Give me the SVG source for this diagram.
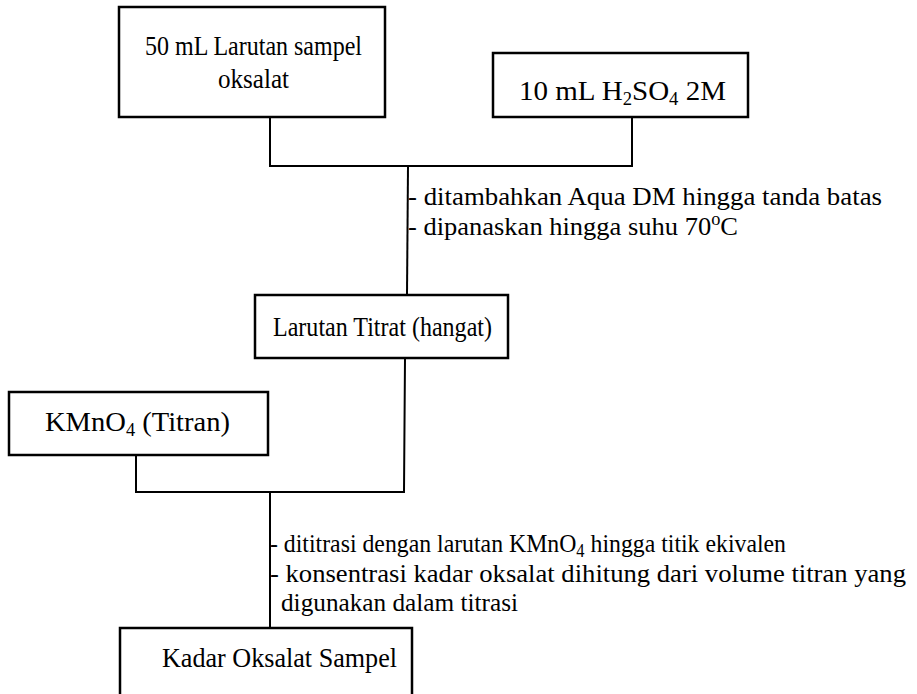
<svg xmlns="http://www.w3.org/2000/svg" width="917" height="694" viewBox="0 0 917 694">
<style>
.box{fill:#fff;stroke:#000;stroke-width:2.5}
.ln{fill:none;stroke:#000;stroke-width:2}
text{font-family:"Liberation Serif","Times New Roman",serif;fill:#000}
.bt{font-size:28px}
.an{font-size:26px}
.sub{font-size:18px}
</style>
<rect width="917" height="694" fill="#fff"/>
<g id="connectors">
<polyline class="ln" points="270,117 270,166 632,166 632,117"/>
<line class="ln" x1="408" y1="166" x2="407" y2="295"/>
<polyline class="ln" points="405,358 404,492 136,492 136,455"/>
<line class="ln" x1="270" y1="492" x2="270" y2="628"/>
</g>
<g id="n1">
<rect class="box" x="119" y="7" width="266" height="110"/>
<text class="bt" x="145" y="55" textLength="217" lengthAdjust="spacingAndGlyphs">50 mL Larutan sampel</text>
<text class="bt" x="218" y="88" textLength="71" lengthAdjust="spacingAndGlyphs">oksalat</text>
</g>
<g id="n2">
<rect class="box" x="493" y="53" width="255" height="64"/>
<text class="bt" x="519" y="100" textLength="207" lengthAdjust="spacingAndGlyphs">10 mL H<tspan class="sub" dy="5">2</tspan><tspan dy="-5">SO</tspan><tspan class="sub" dy="5">4</tspan><tspan dy="-5"> 2M</tspan></text>
</g>
<g id="label1">
<text class="an" x="408" y="205" textLength="474" lengthAdjust="spacingAndGlyphs">- ditambahkan Aqua DM hingga tanda batas</text>
<text class="an" x="408" y="235" textLength="330" lengthAdjust="spacingAndGlyphs">- dipanaskan hingga suhu 70<tspan class="sub" dy="-10">o</tspan><tspan dy="10">C</tspan></text>
</g>
<g id="n3">
<rect class="box" x="255" y="295" width="253" height="63"/>
<text class="bt" x="273" y="336" textLength="219" lengthAdjust="spacingAndGlyphs">Larutan Titrat (hangat)</text>
</g>
<g id="n4">
<rect class="box" x="9" y="392" width="259" height="63"/>
<text class="bt" x="45" y="431" textLength="185" lengthAdjust="spacingAndGlyphs">KMnO<tspan class="sub" dy="5">4</tspan><tspan dy="-5"> (Titran)</tspan></text>
</g>
<g id="label2">
<text class="an" x="270" y="552" textLength="516" lengthAdjust="spacingAndGlyphs">- dititrasi dengan larutan KMnO<tspan class="sub" dy="5">4</tspan><tspan dy="-5"> hingga titik ekivalen</tspan></text>
<text class="an" x="270" y="582" textLength="636" lengthAdjust="spacingAndGlyphs">- konsentrasi kadar oksalat dihitung dari volume titran yang</text>
<text class="an" x="281" y="611" textLength="237" lengthAdjust="spacingAndGlyphs">digunakan dalam titrasi</text>
</g>
<g id="n5">
<rect class="box" x="120" y="628" width="292" height="80"/>
<text class="bt" x="162" y="667" textLength="235" lengthAdjust="spacingAndGlyphs">Kadar Oksalat Sampel</text>
</g>
</svg>
